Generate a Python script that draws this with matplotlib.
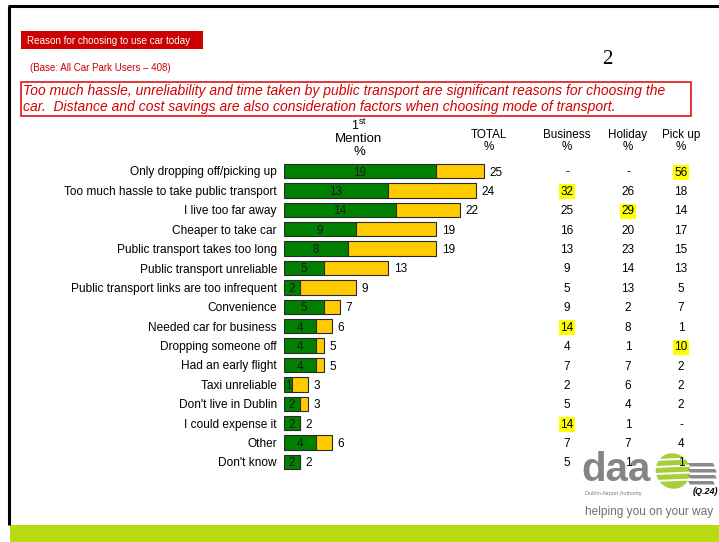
import numpy as np
import matplotlib
matplotlib.use("Agg")
import matplotlib.pyplot as plt
import matplotlib.transforms as mtransforms
from matplotlib.patches import Rectangle, Ellipse, Polygon

plt.rcParams['font.family'] = ['Liberation Sans', 'DejaVu Sans']

# ---- data ----
reasons = ["Only dropping off/picking up", "Too much hassle to take public transport",
           "I live too far away", "Cheaper to take car", "Public transport takes too long",
           "Public transport unreliable", "Public transport links are too infrequent",
           "Convenience", "Needed car for business", "Dropping someone off",
           "Had an early flight", "Taxi unreliable", "Don't live in Dublin",
           "I could expense it", "Other", "Don't know"]
first_mention = [19, 13, 14, 9, 8, 5, 2, 5, 4, 4, 4, 1, 2, 2, 4, 2]
total = [25, 24, 22, 19, 19, 13, 9, 7, 6, 5, 5, 3, 3, 2, 6, 2]
business = ["-", 32, 25, 16, 13, 9, 5, 9, 14, 4, 7, 2, 5, 14, 7, 5]
holiday = ["-", 26, 29, 20, 23, 14, 13, 2, 8, 1, 7, 6, 4, 1, 7, 1]
pickup = [56, 18, 14, 17, 15, 13, 5, 7, 1, 10, 2, 2, 2, "-", 4, 1]
# rows highlighted in each segment column
hl_business = [1, 8, 13]
hl_holiday = [2]
hl_pickup = [0, 9]

GREEN = "#008000"
YELLOW = "#ffcc00"
RED = "#d40000"

W, H = 719, 542
fig = plt.figure(figsize=(W / 100, H / 100), dpi=100)
ax = fig.add_axes([0, 0, 1, 1])
ax.set_xlim(0, W)
ax.set_ylim(H, 0)
ax.axis("off")

# slide frame + footer band
ax.plot([9, 9], [6, 525], color="black", lw=2.2, solid_capstyle="butt")
ax.plot([8, 719], [6, 6], color="black", lw=2.2, solid_capstyle="butt")
ax.add_patch(Rectangle((10, 525), 709, 17, fc="#b6dc10", ec="none"))

# title block
ax.add_patch(Rectangle((21, 31), 182, 18, fc="#cc0000", ec="none"))
ax.text(27, 40.5, "Reason for choosing to use car today", color="white", fontsize=7.1,
        va="center", ha="left")
ax.text(30, 68, "(Base: All Car Park Users \u2013 408)", color="#cc0000", fontsize=7,
        va="center", ha="left")
ax.text(607, 59, "2", family="Liberation Serif", fontsize=15, va="center", ha="center")
ax.add_patch(Rectangle((21, 82), 670, 34, fc="none", ec="#e00000", lw=1.1))
ax.text(23, 91, "Too much hassle, unreliability and time taken by public transport are "
        "significant reasons for choosing the", color=RED, style="italic", fontsize=10,
        va="center", ha="left")
ax.text(23, 106.5, "car.  Distance and cost savings are also consideration factors when "
        "choosing mode of transport.", color=RED, style="italic", fontsize=10,
        va="center", ha="left")

# column headers
ax.text(359, 125, "1$^{\\mathregular{st}}$", fontsize=9, ha="center", va="center")
ax.text(359, 139, "Mention", fontsize=9.5, ha="center", va="center")
ax.text(359, 152, "%", fontsize=9.5, ha="center", va="center")
cols_x = [489, 567, 628, 681]
for x, name in zip(cols_x, ["TOTAL", "Business", "Holiday", "Pick up"]):
    ax.text(x, 135, name, fontsize=8.4, ha="center", va="center")
    ax.text(x, 147, "%", fontsize=8.4, ha="center", va="center")

# bar axes: 8 px per percentage point, rows 19.4 px apart
row0, dy, x0, ppu = 171, 19.4, 284, 8
n = len(reasons)
top = row0 - dy / 2
bot = row0 + (n - 0.5) * dy
bax = fig.add_axes([x0 / W, 1 - bot / H, 300 / W, (bot - top) / H])
bax.set_xlim(0, 300 / ppu)
bax.set_ylim(n - 0.5, -0.5)
bax.axis("off")

y = np.arange(n)
fm = np.array(first_mention)
tot = np.array(total)
bax.barh(y, fm, height=0.75, color=GREEN, edgecolor="#2a2a2a", lw=0.8)
bax.barh(y, tot - fm, left=fm, height=0.75, color=YELLOW, edgecolor="#2a2a2a", lw=0.8)
for i in range(n):
    bax.text(fm[i] / 2, i, str(fm[i]), fontsize=8.5, ha="center", va="center_baseline",
             color="#1a1a1a")
    bax.annotate(str(tot[i]), (tot[i], i), xytext=(4, 0), textcoords="offset points",
                 fontsize=8.5, ha="left", va="center_baseline")

# category labels and segment columns (x in slide pixels, y in bar rows)
tr = mtransforms.blended_transform_factory(ax.transData, bax.transData)
for i, lab in enumerate(reasons):
    ax.text(277, i, lab, transform=tr, fontsize=8.6, ha="right", va="center_baseline")

for x, vals, hl in zip(cols_x[1:], [business, holiday, pickup],
                       [hl_business, hl_holiday, hl_pickup]):
    for i, v in enumerate(vals):
        box = None
        if i in hl:
            box = dict(boxstyle="square,pad=0.12", fc="#ffff00", ec="none")
        ax.text(x, i, str(v), transform=tr, fontsize=8.5, ha="center",
                va="center_baseline", bbox=box, zorder=5)

# daa logo (drawn under the numbers)
ax.text(616, 470, "daa", fontsize=29, fontweight="bold", color="#858585",
        ha="center", va="center", zorder=1)
ax.add_patch(Ellipse((673, 471), 34, 36, angle=-30, fc="#a6cf3a", ec="none", zorder=1))
for yy in [460, 467, 474, 481]:
    ax.plot([655, 692], [yy, yy - 1.5], color="white", lw=1.4, zorder=1)
for k, yy in enumerate([463, 469, 475, 481]):
    ax.add_patch(Polygon([[688, yy], [716 - 2 * abs(k - 1.5), yy], [718 - 2 * abs(k - 1.5), yy + 3.5],
                          [690, yy + 3.5]], closed=True, fc="#8a8a8a", ec="none", zorder=1))
ax.text(585, 493, "Dublin Airport Authority", fontsize=4, color="#7d7d7d", ha="left",
        va="center")
ax.text(718, 491, "(Q.24)", fontsize=6.5, fontweight="bold", style="italic", ha="right",
        va="center")
ax.text(649, 512, "helping you on your way", fontsize=8.6, color="#707070", ha="center",
        va="center")

fig.savefig("out.png", dpi=100)
